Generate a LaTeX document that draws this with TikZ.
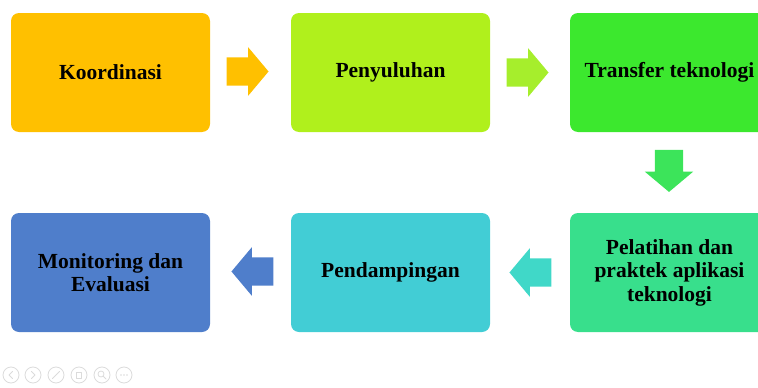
\documentclass[tikz,border=0pt]{standalone}
\usepackage{fontspec}
\setmainfont{Liberation Serif}
\usetikzlibrary{shapes.arrows,calc}
\definecolor{kuning}{HTML}{FFC000}
\definecolor{limau}{HTML}{B0F01C}
\definecolor{limaupanah}{HTML}{A6EE2C}
\definecolor{hijau}{HTML}{3CE82E}
\definecolor{hijaupanah}{HTML}{3CE45A}
\definecolor{hijaumuda}{HTML}{38DF8C}
\definecolor{tosca}{HTML}{42CDD5}
\definecolor{toscapanah}{HTML}{40D8C8}
\definecolor{biru}{HTML}{4F7ECB}
\begin{document}
\begin{tikzpicture}[x=1pt, y=-1pt, font=\bfseries\fontsize{21.5}{23.5}\selectfont, line join=round, line cap=round]
	\tikzset{kotak/.style={rounded corners=8pt, minimum width=199pt, minimum height=119pt, align=center, inner sep=0pt, text=black},
		panah/.style={single arrow, anchor=tip, minimum height=42pt, inner xsep=0pt, inner ysep=14pt, single arrow head extend=10pt, single arrow tip angle=100},
		ikon/.style={gray!28, line width=0.8pt}}
	\clip (0,0) rectangle (758,388);
	% kotak baris atas
	\node[kotak, fill=kuning] (koordinasi) at (110.5,72.5) {Koordinasi};
	\node[kotak, fill=limau] (penyuluhan) at (390.5,72.5) {Penyuluhan};
	\node[kotak, fill=hijau] (transfer) at (669.5,72.5) {Transfer teknologi};
	% kotak baris bawah
	\node[kotak, fill=hijaumuda] (pelatihan) at (669.5,272.5) {Pelatihan dan\\praktek aplikasi\\teknologi};
	\node[kotak, fill=tosca] (pendampingan) at (390.5,272.5) {Pendampingan};
	\node[kotak, fill=biru] (monev) at (110.5,272.5) {Monitoring dan\\Evaluasi};
	% panah (ujung panah diletakkan relatif ke kotak)
	\node[panah, fill=kuning] (p1) at ($(penyuluhan.west)+(-22,-1)$) {};
	\node[panah, fill=limaupanah] (p2) at ($(transfer.west)+(-21,0)$) {};
	\node[panah, fill=hijaupanah, rotate=-90] (p3) at ($(transfer.south)+(-0.5,60)$) {};
	\node[panah, fill=toscapanah, rotate=180] (p4) at ($(pendampingan.east)+(19,0)$) {};
	\node[panah, fill=biru, rotate=180] (p5) at ($(monev.east)+(21,-1)$) {};
	% tombol slide
	\foreach \x in {11,33,56,79,102,124} \draw[ikon] (\x,375) circle[radius=8pt];
	\draw[ikon] (12.5,371.5)--(9,375)--(12.5,378.5);
	\draw[ikon] (31.5,371.5)--(35,375)--(31.5,378.5);
	\draw[ikon] (52.5,378.5)--(59.5,371.5);
	\draw[ikon] (76,372) rectangle (81,378);
	\draw[ikon] (101,374) circle[radius=3pt] (103,376)--(106,379);
	\foreach \x in {121,124,127} \fill[gray!28] (\x,375) circle[radius=0.9pt];
\end{tikzpicture}
\end{document}
